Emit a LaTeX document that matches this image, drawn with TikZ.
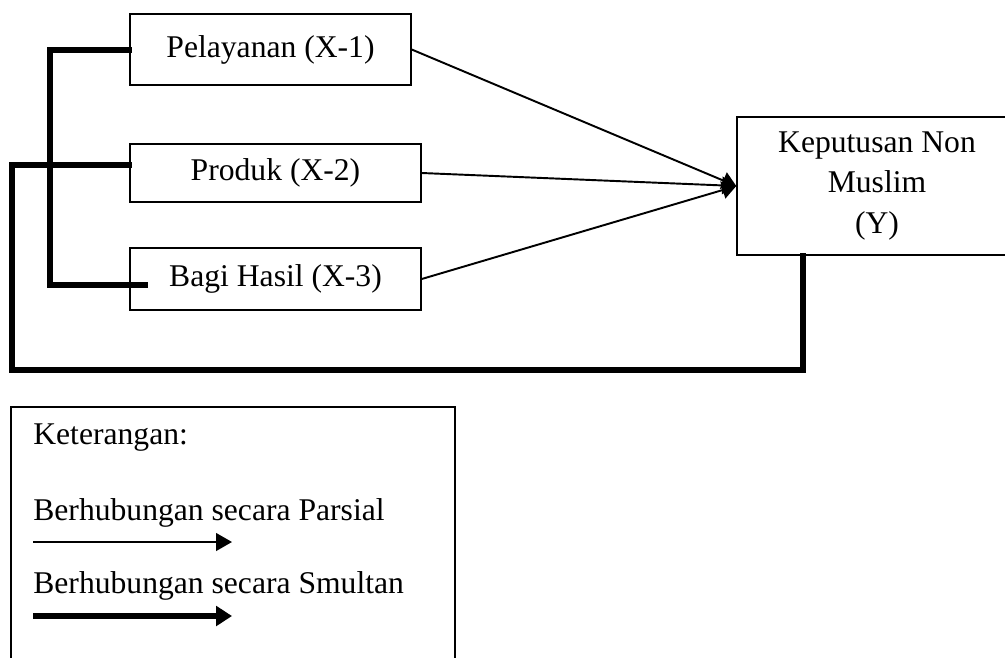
\documentclass[tikz,border=0pt]{standalone}
\usepackage{fontspec}
\setmainfont{Liberation Serif}
\usepackage{tikz}
\usetikzlibrary{arrows.meta,positioning}
\tikzset{
  vbox/.style={draw=black, fill=white, line width=0.85pt, align=center, inner sep=0pt, font=\fontsize{18}{23}\selectfont},
  varrow/.style={-{Triangle[length=8pt, width=10pt]}, line width=1.1pt, black},
  vlink/.style={line width=3.1pt, black, line cap=rect},
  vlabel/.style={anchor=west, inner sep=0pt, font=\fontsize{18}{22}\selectfont},
}
\begin{document}
\begin{tikzpicture}[x=0.02cm, y=-0.02cm]
  \useasboundingbox (0,0) rectangle (1005,657);
  \clip (0,0) rectangle (1005,657);
  % variables
  \node[vbox, minimum width=5.62cm, minimum height=1.42cm] (x1) at (270.5,49.5) {Pelayanan (X-1)};
  \node[vbox, minimum width=5.82cm, minimum height=1.16cm] (x2) at (275.5,173) {Produk (X-2)};
  \node[vbox, minimum width=5.82cm, minimum height=1.24cm] (x3) at (275.5,279) {Bagi Hasil (X-3)};
  \node[vbox, minimum width=5.6cm, minimum height=2.76cm] (y) at (877,186) {Keputusan Non\\Muslim\\(Y)};
  % partial arrows
  \draw[varrow] (x1.east) -- (y.west);
  \draw[varrow] (x2.east) -- (y.west);
  \draw[varrow] (x3.east) -- (y.west);
  % simultaneous bracket
  \coordinate (b1) at (50,50);
  \coordinate (b3) at (50,285);
  \coordinate (l2) at (12,165);
  \coordinate (e3) at (145,285);
  \draw[vlink] (x1.west |- b1) -- (b1) -- (b3) -- (e3);
  \draw[vlink] (x2.west |- l2) -- (l2) -- (12,370) -- (803,370) -- (y.south -| 803,0);
  % legend
  \draw[line width=0.85pt] (11,665) -- (11,407) -- (455,407) -- (455,665);
  \node[vlabel] (ket) at (33,438) {Keterangan:};
  \node[vlabel] (par) at (33,513) {Berhubungan secara Parsial};
  \node[vlabel] (sim) at (33,586) {Berhubungan secara Smultan};
  \coordinate (pa) at (33,542);
  \coordinate (pb) at (232,542);
  \coordinate (sa) at (33,616);
  \coordinate (sb) at (232,616);
  \draw[line width=1.1pt, -{Triangle[length=9pt, width=10pt]}] (pa) -- (pb);
  \draw[line width=3.1pt, -{Triangle[length=9pt, width=11pt]}] (sa) -- (sb);
\end{tikzpicture}
\end{document}
